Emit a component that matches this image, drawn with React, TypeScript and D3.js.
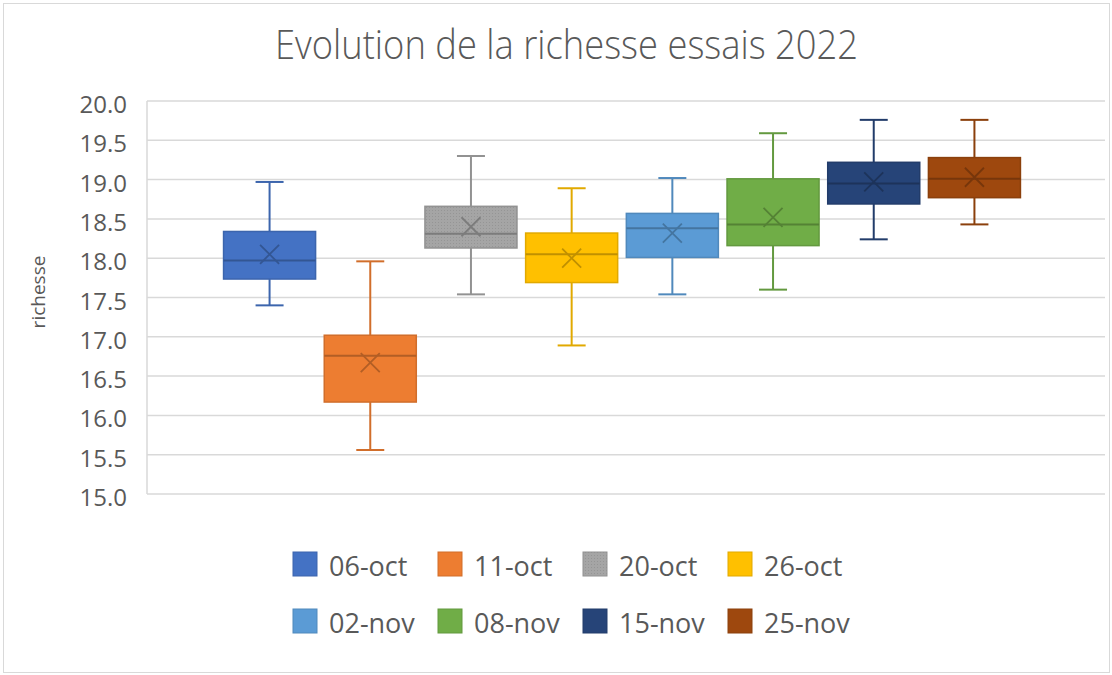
import React from 'react'
import * as d3 from 'd3'

const dates = ['06-oct', '11-oct', '20-oct', '26-oct', '02-nov', '08-nov', '15-nov', '25-nov']
const colors = ['#4472C4', '#ED7D31', '#A5A5A5', '#FFC000', '#5B9BD5', '#70AD47', '#264478', '#9E480E']
const mins = [17.4, 15.56, 17.54, 16.89, 17.54, 17.6, 18.24, 18.43]
const q1s = [17.735, 16.17, 18.13, 17.69, 18.01, 18.16, 18.69, 18.77]
const medians = [17.97, 16.76, 18.31, 18.05, 18.38, 18.43, 18.95, 19.01]
const q3s = [18.34, 17.02, 18.66, 18.32, 18.57, 19.01, 19.22, 19.28]
const maxs = [18.97, 17.96, 19.3, 18.89, 19.02, 19.59, 19.76, 19.76]
const means = [18.05, 16.67, 18.4, 18.0, 18.32, 18.52, 18.97, 19.03]
const yTicks = d3.range(15, 20.001, 0.5)

const W = 1112
const H = 675
const FONT = '"Open Sans", "Noto Sans", sans-serif'
const TXT = '#595959'

export default function App() {
  const plot = { left: 147, right: 1105, top: 101, bottom: 494 }
  const y = d3.scaleLinear().domain([15, 20]).range([plot.bottom, plot.top])
  const x = d3.scaleBand<string>().domain(dates).range([143, 1101]).paddingInner(0.086).paddingOuter(0.8)
  const bw = x.bandwidth()
  const legendCol = d3.scalePoint<number>().domain([0, 1, 2, 3]).range([293, 728])
  const legendRow = [552, 609]

  return (
    <div style={{ position: 'absolute', left: 0, top: 0 }}>
      <svg width={W} height={H} style={{ display: 'block', background: '#fff' }}>
        <defs>
          {/* Excel's faint dotted fill on the grey box */}
          <pattern id="dots" width={3} height={3} patternUnits="userSpaceOnUse">
            <rect width={3} height={3} fill="#A5A5A5" />
            <rect width={1} height={1} fill="#959595" />
          </pattern>
        </defs>
        <rect x={3.5} y={3.5} width={W - 6} height={H - 6} fill="#fff" stroke="#d9d9d9" strokeWidth={1} />
        <text x={275} y={59} fontFamily={FONT} fontWeight={300} fontSize={40} fill={TXT}
          textLength={583} lengthAdjust="spacingAndGlyphs">Evolution de la richesse essais 2022</text>

        {yTicks.map(t => (
          <g key={t}>
            <line x1={plot.left} x2={plot.right} y1={y(t)} y2={y(t)} stroke="#d9d9d9" strokeWidth={1.5} />
            <text x={127} y={y(t) + 12} textAnchor="end" fontFamily={FONT} fontSize={24} fill={TXT}>{t.toFixed(1)}</text>
          </g>
        ))}
        <line x1={plot.left} x2={plot.left} y1={plot.top} y2={plot.bottom} stroke="#d9d9d9" strokeWidth={1.5} />

        <text transform={`translate(45,292) rotate(-90)`} textAnchor="middle" fontFamily={FONT} fontSize={19} fill={TXT}>richesse</text>

        {dates.map((d, i) => {
          const c = colors[i]
          const edge = d3.color(c)!.darker(0.35).formatHex()
          const dark = d3.color(c)!.darker(0.8).formatHex()
          const x0 = x(d)!
          const cx = x0 + bw / 2
          const cap = 14
          const m = 9.5
          return (
            <g key={d}>
              <line x1={cx} x2={cx} y1={y(maxs[i])} y2={y(q3s[i])} stroke={edge} strokeWidth={2} />
              <line x1={cx} x2={cx} y1={y(q1s[i])} y2={y(mins[i])} stroke={edge} strokeWidth={2} />
              <line x1={cx - cap} x2={cx + cap} y1={y(maxs[i])} y2={y(maxs[i])} stroke={edge} strokeWidth={2} />
              <line x1={cx - cap} x2={cx + cap} y1={y(mins[i])} y2={y(mins[i])} stroke={edge} strokeWidth={2} />
              <rect x={x0} y={y(q3s[i])} width={bw} height={y(q1s[i]) - y(q3s[i])}
                fill={i === 2 ? 'url(#dots)' : c} stroke={edge} strokeWidth={1.5} />
              <line x1={x0} x2={x0 + bw} y1={y(medians[i])} y2={y(medians[i])} stroke={dark} strokeWidth={2} />
              <path d={`M${cx - m},${y(means[i]) - m}L${cx + m},${y(means[i]) + m}M${cx + m},${y(means[i]) - m}L${cx - m},${y(means[i]) + m}`}
                stroke={dark} strokeWidth={1.8} fill="none" />
            </g>
          )
        })}

        {dates.map((d, i) => {
          const lx = legendCol(i % 4)!
          const ly = legendRow[Math.floor(i / 4)]
          return (
            <g key={'lg' + d}>
              <rect x={lx} y={ly} width={24} height={24} fill={i === 2 ? 'url(#dots)' : colors[i]}
                stroke={d3.color(colors[i])!.darker(0.35).formatHex()} strokeWidth={1} />
              <text x={lx + 36} y={ly + 24} fontFamily={FONT} fontSize={27} fill={TXT}>{d}</text>
            </g>
          )
        })}
      </svg>
    </div>
  )
}
